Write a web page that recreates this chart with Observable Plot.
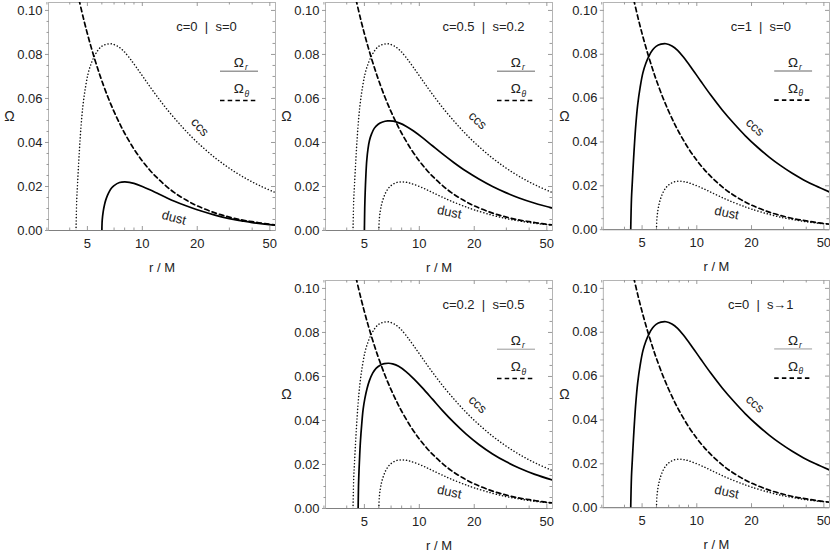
<!DOCTYPE html>
<html>
<head>
<meta charset="utf-8">
<script src="https://cdn.jsdelivr.net/npm/d3@7"></script>
<script src="https://cdn.jsdelivr.net/npm/@observablehq/plot@0.6"></script>
<style>
  body { margin: 0; background: #fff; }
  #wrap { position: relative; width: 830px; height: 554px; overflow: hidden; background: #fff; }
  .panel { position: absolute; }
</style>
</head>
<body>
<div id="wrap"></div>
<script>
// ---------- data ----------
// Omega_theta (dashed), same in every panel
const thetaR     = [4.5, 4.75, 5, 5.25, 5.5, 5.75, 6, 6.5, 7, 7.5, 8, 9, 10, 11, 12, 13.5, 15, 17.5, 20, 25, 30, 35, 40, 47, 54];
const thetaOmega = [0.1048, 0.0966, 0.0894, 0.0831, 0.0775, 0.0725, 0.0680, 0.0603, 0.0540, 0.0487, 0.0442, 0.0370, 0.0316, 0.0274, 0.0241, 0.0202, 0.0172, 0.0137, 0.0112, 0.0080, 0.0061, 0.0048, 0.0040, 0.0031, 0.0025];

// Omega_r, dust
const dustR     = [6.0, 6.03, 6.1, 6.2, 6.3, 6.45, 6.6, 6.8, 7.0, 7.5, 8.0, 8.5, 9.0, 10, 11, 12, 13.5, 15, 17.5, 20, 25, 30, 35, 40, 47, 54];
const dustOmega = [0, 0.0048, 0.0085, 0.0116, 0.0138, 0.0161, 0.0178, 0.0194, 0.0204, 0.0218, 0.0221, 0.0219, 0.0214, 0.0200, 0.0185, 0.0170, 0.0150, 0.0133, 0.0111, 0.0094, 0.0070, 0.0054, 0.0044, 0.0036, 0.0029, 0.0024];

// Omega_r, ccs
const ccsR     = [4.33, 4.37, 4.42, 4.48, 4.54, 4.62, 4.73, 4.88, 5.05, 5.25, 5.48, 5.72, 5.97, 6.35, 6.77, 7.3, 7.84, 8.5, 9.27, 10.5, 11.9, 13.8, 16.0, 18.5, 21.5, 25.0, 28.8, 33.5, 38.7, 45.0, 53.7];
const ccsOmega = [0, 0.014, 0.022, 0.031, 0.039, 0.048, 0.057, 0.065, 0.0715, 0.0760, 0.0795, 0.0820, 0.0836, 0.0846, 0.0848, 0.0838, 0.0818, 0.0784, 0.0742, 0.0678, 0.0615, 0.0546, 0.0484, 0.0428, 0.0377, 0.0331, 0.0293, 0.0257, 0.0227, 0.0200, 0.0172];

// Omega_r, c=0.5 | s=0.2
const mixAR     = [5.0, 5.02, 5.05, 5.1, 5.15, 5.23, 5.33, 5.48, 5.66, 5.95, 6.29, 6.7, 7.2, 7.8, 8.45, 9.3, 10.4, 11.8, 13.4, 15.5, 18.0, 21.2, 25.2, 30, 35.2, 43, 53.7];
const mixAOmega = [0, 0.010, 0.0175, 0.026, 0.0318, 0.0370, 0.0409, 0.0440, 0.0464, 0.0483, 0.0493, 0.0498, 0.0497, 0.0488, 0.0474, 0.0452, 0.0422, 0.0385, 0.0348, 0.0308, 0.0270, 0.0234, 0.0200, 0.0171, 0.0148, 0.0124, 0.0102];

// Omega_r, c=0.2 | s=0.5
const mixBR     = [4.62, 4.64, 4.67, 4.71, 4.76, 4.83, 4.92, 5.03, 5.17, 5.32, 5.55, 5.79, 6.1, 6.42, 6.8, 7.14, 7.7, 8.45, 9.3, 10.4, 11.8, 13.4, 15.5, 18.0, 21.2, 25.2, 30, 35.2, 43, 53.7];
const mixBOmega = [0, 0.010, 0.017, 0.024, 0.031, 0.038, 0.045, 0.050, 0.0545, 0.0580, 0.0615, 0.0637, 0.0651, 0.0658, 0.0660, 0.0657, 0.0646, 0.0622, 0.0590, 0.0548, 0.0497, 0.0445, 0.0390, 0.0339, 0.0291, 0.0248, 0.0212, 0.0184, 0.0155, 0.0129];

const panelTitles = ["c=0 | s=0", "c=0.5 | s=0.2", "c=1 | s=0", "c=0.2 | s=0.5", "c=0 | s\u21921"];
const xTickValues  = [5, 10, 20, 50];
const xMinorValues = [3, 4, 6, 7, 8, 9, 30, 40];
const yTickValues  = [0, 0.02, 0.04, 0.06, 0.08, 0.10];
const yMinorValues = [0.005, 0.01, 0.015, 0.025, 0.03, 0.035, 0.045, 0.05, 0.055, 0.065, 0.07, 0.075, 0.085, 0.09, 0.095];
const xLabel = "r / M";
const yLabel = "\u03A9";

// ---------- tables ----------
const table = (rs, os) => rs.map((r, i) => ({r, omega: os[i]}));
const series = {
  theta: table(thetaR, thetaOmega),
  dust: table(dustR, dustOmega),
  ccs: table(ccsR, ccsOmega),
  mixA: table(mixAR, mixAOmega),
  mixB: table(mixBR, mixBOmega)
};

// ---------- layout ----------
const W = 276, H = 280, ML = 48, MR = 1, MT = 2, MB = 50;
const PW = W - ML - MR, PH = H - MT - MB;
const xDomain = [3.06, 53.7];
const yDomain = [0, 0.1036];
const font = "'Liberation Sans', Arial, Helvetica, sans-serif";

const panels = [
  {title: panelTitles[0], left: 0,   top: 0,     solid: "dust", dotted: ["ccs"],
   ccsLab: {r: 20.7, o: 0.0470, rot: 48}, dustLab: {r: 14.9, o: 0.0058, rot: 15}, legW: 1.6},
  {title: panelTitles[1], left: 277, top: 0,     solid: "mixA", dotted: ["ccs", "dust"],
   ccsLab: {r: 20.9, o: 0.0500, rot: 42}, dustLab: {r: 14.6, o: 0.0083, rot: 12}, legW: 1.6},
  {title: panelTitles[2], left: 555, top: 0,     solid: "ccs", dotted: ["dust"],
   ccsLab: {r: 20.9, o: 0.0467, rot: 42}, dustLab: {r: 14.6, o: 0.0076, rot: 12}, legW: 1.6},
  {title: panelTitles[3], left: 277, top: 277.5, solid: "mixB", dotted: ["ccs", "dust"],
   ccsLab: {r: 20.9, o: 0.0473, rot: 42}, dustLab: {r: 14.6, o: 0.0075, rot: 12}, legW: 1},
  {title: panelTitles[4], left: 555, top: 277.5, solid: "ccs", dotted: ["dust"],
   ccsLab: {r: 20.9, o: 0.0473, rot: 42}, dustLab: {r: 14.6, o: 0.0071, rot: 12}, legW: 1}
];

const frameGray = "#b4b4b4", tickGray = "#9a9a9a", textColor = "#222";
const legSolidY = yDomain[1] * (1 - 68.7 / PH);
const legDashY  = yDomain[1] * (1 - 98 / PH);
const T = {fontSize: 13, fill: textColor, textAnchor: "middle", lineAnchor: "middle"};
const dash = "4.5,3.2";

const wrap = document.getElementById("wrap");

for (const p of panels) {
  const marks = [
    Plot.frame({stroke: frameGray}),
    Plot.ruleY([0], {stroke: "#808080"}),
    // frame ticks (bottom, top: inward; left: outward; right: inward)
    Plot.ruleX(xTickValues,  {insetTop: PH - 4, stroke: tickGray}),
    Plot.ruleX(xMinorValues, {insetTop: PH - 2.5, stroke: tickGray}),
    Plot.ruleX(xTickValues,  {insetBottom: PH - 4, stroke: tickGray}),
    Plot.ruleX(xMinorValues, {insetBottom: PH - 2.5, stroke: tickGray}),
    Plot.ruleY(yTickValues,  {insetRight: PW - 4, dx: -3, stroke: tickGray}),
    Plot.ruleY(yMinorValues, {insetRight: PW - 2.5, dx: -1.5, stroke: tickGray}),
    Plot.ruleY(yTickValues,  {insetLeft: PW - 4, stroke: tickGray}),
    Plot.ruleY(yMinorValues, {insetLeft: PW - 2.5, stroke: tickGray}),
    // tick labels
    Plot.text(xTickValues, {...T, x: d => d, frameAnchor: "bottom", lineAnchor: "top", dy: 8, text: d => String(d)}),
    Plot.text(yTickValues, {...T, y: d => d, frameAnchor: "left", textAnchor: "end", dx: -6, text: d => d3.format(".2f")(d)}),
    // axis labels
    Plot.text([xLabel], {...T, frameAnchor: "bottom", dy: 37, text: d => d}),
    Plot.text([yLabel], {...T, frameAnchor: "left", dx: -39, text: d => d, fontSize: 14}),
    // curves
    ...p.dotted.map(k => Plot.line(series[k], {x: "r", y: "omega", stroke: "#111", strokeWidth: 1.5,
      strokeDasharray: "0.1,3.1", strokeLinecap: "round", curve: "catmull-rom", clip: true})),
    Plot.line(series.theta, {x: "r", y: "omega", stroke: "#000", strokeWidth: 1.7,
      strokeDasharray: dash, curve: "catmull-rom", clip: true}),
    Plot.line(series[p.solid], {x: "r", y: "omega", stroke: "#000", strokeWidth: 1.7, curve: "catmull-rom", clip: true}),
    // curve labels
    Plot.text([p.ccsLab], {...T, x: "r", y: "o", text: () => "ccs", rotate: p.ccsLab.rot}),
    Plot.text([p.dustLab], {...T, x: "r", y: "o", text: () => "dust", rotate: p.dustLab.rot}),
    // title
    Plot.text([p.title.replace(" | ", "\u00a0\u00a0|\u00a0\u00a0")], {...T, frameAnchor: "top-left", dx: 158, dy: 24.5, text: d => d}),
    // legend
    Plot.text(["\u03A9"], {...T, frameAnchor: "top-left", dx: 190.3, dy: 60, text: d => d, fontSize: 13.5}),
    Plot.text(["r"], {...T, frameAnchor: "top-left", dx: 197.8, dy: 65, text: d => d, fontSize: 8.5, fontStyle: "italic"}),
    Plot.ruleY([legSolidY], {insetLeft: 172, insetRight: PW - 210, stroke: "#999", strokeWidth: p.legW}),
    Plot.text(["\u03A9"], {...T, frameAnchor: "top-left", dx: 190.3, dy: 86.5, text: d => d, fontSize: 13.5}),
    Plot.text(["\u03B8"], {...T, frameAnchor: "top-left", dx: 198.3, dy: 91.5, text: d => d, fontSize: 8.5, fontStyle: "italic"}),
    Plot.ruleY([legDashY], {insetLeft: 172, insetRight: PW - 210, stroke: "#000", strokeWidth: 1.7, strokeDasharray: dash})
  ];

  const svg = Plot.plot({
    width: W, height: H,
    marginLeft: ML, marginRight: MR, marginTop: MT, marginBottom: MB,
    style: {fontFamily: font, background: "transparent", overflow: "visible"},
    x: {type: "log", domain: xDomain, axis: null},
    y: {domain: yDomain, axis: null},
    marks
  });
  const div = document.createElement("div");
  div.className = "panel";
  div.style.left = p.left + "px";
  div.style.top = p.top + "px";
  div.appendChild(svg);
  wrap.appendChild(div);
}
</script>
</body>
</html>
